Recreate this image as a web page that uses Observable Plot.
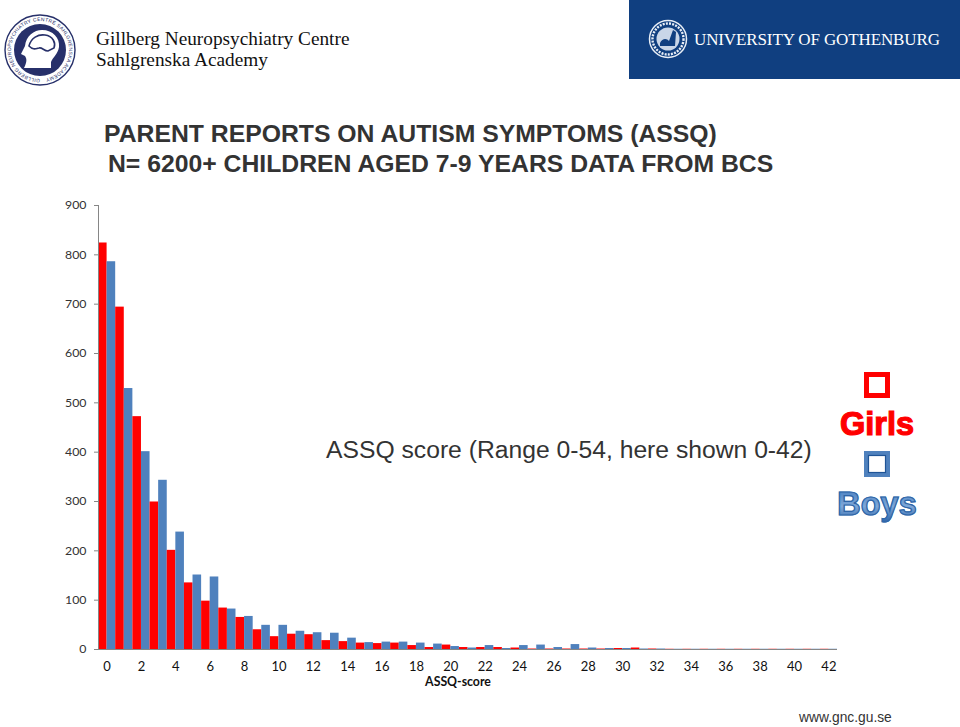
<!DOCTYPE html>
<html>
<head>
<meta charset="utf-8">
<script src="https://cdn.jsdelivr.net/npm/d3@7"></script>
<script src="https://cdn.jsdelivr.net/npm/@observablehq/plot@0.6"></script>
<style>
html,body{margin:0;padding:0;background:#fff;width:960px;height:727px;overflow:hidden}
#chart{position:absolute;left:0;top:0}
.t{position:absolute;white-space:nowrap}
.title{font:bold 24.75px "Liberation Sans",Arial,sans-serif;color:#333}
.logo{font:19.3px "Liberation Serif",serif;color:#111}
.legend{font:bold 32.5px "Liberation Sans",Arial,sans-serif;transform:translateX(-50%)}
svg.deco{position:absolute;overflow:visible}
</style>
</head>
<body>
<div id="chart"></div>

<svg class="deco" style="left:0;top:0" width="90" height="90" viewBox="0 0 90 90">
  <defs><path id="ring" d="M 40 79 A 29 29 0 1 1 40.01 79"/></defs>
  <circle cx="40" cy="50" r="35" fill="#fff" stroke="#27306a" stroke-width="1.4"/>
  <circle cx="40" cy="50" r="26" fill="#27306a"/>
  <text font-family="Liberation Sans" font-size="5" fill="#27306a"><textPath href="#ring" textLength="176">GILLBERG NEUROPSYCHIATRY CENTRE SAHLGRENSKA ACADEMY</textPath></text>
  <path d="M24 68 C27 62 27 59 25 56 L21 54 L25 46 C26 36 34 30 42 30 C53 30 60 38 59 47 C58 54 53 57 51 62 L51 68 Z" fill="#fff"/>
  <path d="M29 46 C31 38 38 34 45 35 C53 36 56 43 54 48 L48 51 C44 51 42 47 39 48 C35 49 33 50 29 46 Z" fill="none" stroke="#27306a" stroke-width="1.6"/>
</svg>
<div class="t logo" style="left:96px;top:28px">Gillberg Neuropsychiatry Centre</div>
<div class="t logo" style="left:96px;top:49px">Sahlgrenska Academy</div>

<svg class="deco" style="left:629px;top:0" width="331" height="79" viewBox="0 0 331 79">
  <rect width="331" height="79" fill="#103f80"/>
  <circle cx="39" cy="39" r="18.5" fill="none" stroke="#e8eef6" stroke-width="1.5"/>
  <circle cx="39" cy="39" r="15.5" fill="none" stroke="#e8eef6" stroke-width="2.4" stroke-dasharray="2 1.2"/>
  <circle cx="39" cy="39" r="11.5" fill="#c9d6e8"/>
  <path d="M31 43 C33 38 38 38 40 41 L44 30 L47 32 L46 46 L31 46 Z" fill="#103f80"/>
  <text x="65" y="45" font-family="Liberation Serif" font-size="17" fill="#fff" textLength="246">UNIVERSITY OF GOTHENBURG</text>
</svg>

<div class="t title" style="left:104px;top:120px">PARENT REPORTS ON AUTISM SYMPTOMS (ASSQ)</div>
<div class="t title" style="left:108px;top:150px">N= 6200+ CHILDREN AGED 7-9 YEARS DATA FROM BCS</div>
<div class="t" style="left:326px;top:436px;font:24.7px 'Liberation Sans',Arial,sans-serif;color:#333">ASSQ score (Range 0-54, here shown 0-42)</div>

<svg class="deco" style="left:864px;top:372px" width="27" height="105" viewBox="0 0 27 105">
  <rect x="2.5" y="2.5" width="21" height="21" fill="none" stroke="#ff0000" stroke-width="5"/>
  <rect x="2.5" y="81.5" width="21" height="21" fill="none" stroke="#4f81bd" stroke-width="5"/>
  <rect x="4.5" y="83.5" width="17" height="17" fill="none" stroke="#1f5496" stroke-width="1.2"/>
</svg>
<div class="t legend" style="left:877px;top:406px;color:#ff0000;-webkit-text-stroke:1.2px #ff0000">Girls</div>
<div class="t legend" style="left:877px;top:486px;background:linear-gradient(#3f78bd,#7fa8d8 55%,#2a62a8);-webkit-background-clip:text;background-clip:text;color:transparent;-webkit-text-stroke:1.2px #2f66a8">Boys</div>
<div class="t" style="left:799px;top:710px;font:13.8px 'Liberation Sans',Arial,sans-serif;color:#333">www.gnc.gu.se</div>

<script>
const scores = d3.range(0, 43);
const girls = [824,694,472,299,201,135,98,84,65,40,26,31,30,18,16,13,12,13,8,4,9,4,4,4,3,1,1,1,1,1,2,3,1,0.5,0.5,0.5,0.5,0.5,0.5,0.5,0.5,0.5,0.5];
const boys  = [786,529,401,343,238,151,147,82,67,49,49,37,34,33,23,14,15,15,13,11,6,3,8,2,8,9,4,10,3,2,2,1,1,0.5,0.5,0.5,0.5,0.5,0.5,0.5,0.5,0.5,0.5];
const yTicks = [0,100,200,300,400,500,600,700,800,900];
const xLabels = d3.range(0, 43, 2);

const rows = scores.flatMap((s, i) => [
  {score: s, sex: "Girls", slot: 0, count: girls[i]},
  {score: s, sex: "Boys", slot: 0.5, count: boys[i]}
]);

const chart = Plot.plot({
  width: 960,
  height: 727,
  marginLeft: 98,
  marginRight: 123,
  marginTop: 205,
  marginBottom: 78,
  style: {background: "transparent", fontFamily: "Lato, sans-serif"},
  x: {domain: [0, 43], label: null},
  y: {domain: [0, 900], label: null},
  color: {domain: ["Girls", "Boys"], range: ["#ff0000", "#4f81bd"]},
  marks: [
    Plot.rectY(rows, {
      x1: d => d.score + d.slot,
      x2: d => d.score + d.slot + 0.5,
      y: "count",
      fill: "sex"
    }),
    Plot.ruleY([0], {stroke: "#868686"}),
    Plot.ruleX([0], {stroke: "#868686"}),
    Plot.axisY({ticks: yTicks, tickSize: 4, tickPadding: 8, stroke: "#868686", color: "#333", fontSize: 12.3, label: null}),
    Plot.axisX({ticks: xLabels.map(d => d + 0.5), tickFormat: d => d - 0.5, tickSize: 0, tickPadding: 12, color: "#111", fontSize: 13, label: null}),
    Plot.text(["ASSQ-score"], {frameAnchor: "bottom", dx: -10, dy: 36, fontWeight: "bold", fontSize: 12.3, fill: "#111"})
  ]
});
document.getElementById("chart").appendChild(chart);
</script>
</body>
</html>
